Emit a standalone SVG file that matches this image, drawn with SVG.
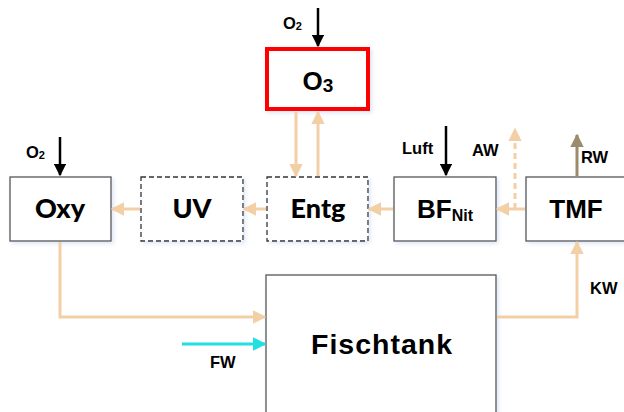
<svg xmlns="http://www.w3.org/2000/svg" width="624" height="412" viewBox="0 0 624 412">
<style>
.box{fill:#fff;stroke:#555;stroke-width:1.3}
.dash{fill:#fff;stroke:#333;stroke-width:1.3;stroke-dasharray:5 3}
.t{font-family:"Liberation Sans",Arial,sans-serif;font-weight:bold;fill:#000;text-anchor:middle}
.c{font-family:Lato,"Liberation Sans",sans-serif;font-weight:900;fill:#000;text-anchor:middle}
.lbl{font-family:"Liberation Sans",Arial,sans-serif;font-weight:bold;fill:#000;font-size:16.5px}
.flow{fill:none;stroke:#F3CFA6;stroke-width:3}
.blk{fill:none;stroke:#000;stroke-width:2.5}
</style>
<defs>
<marker id="ap" viewBox="0 0 10 10" refX="9" refY="5" markerWidth="4.5" markerHeight="4.5" orient="auto" markerUnits="strokeWidth"><path d="M0,0L10,5L0,10z" fill="#F3CFA6"/></marker>
<marker id="ak" viewBox="0 0 10 10" refX="9" refY="5" markerWidth="5" markerHeight="5" orient="auto" markerUnits="strokeWidth"><path d="M0,0L10,5L0,10z" fill="#000"/></marker>
<marker id="ab" viewBox="0 0 10 10" refX="9" refY="5" markerWidth="4.5" markerHeight="4.5" orient="auto" markerUnits="strokeWidth"><path d="M0,0L10,5L0,10z" fill="#9A8C6C"/></marker>
<marker id="ac" viewBox="0 0 10 10" refX="9" refY="5" markerWidth="4.5" markerHeight="4.5" orient="auto" markerUnits="strokeWidth"><path d="M0,0L10,5L0,10z" fill="#22E0E0"/></marker>
<filter id="sh" x="-10%" y="-10%" width="130%" height="130%"><feDropShadow dx="2" dy="2" stdDeviation="2" flood-color="#9DB8E0" flood-opacity="0.35"/></filter>
</defs>

<g id="O3">
<rect x="267" y="49" width="101" height="60" fill="#fff" stroke="#FF0000" stroke-width="4" filter="url(#sh)"/>
<text class="t" x="318" y="90" font-size="26">O<tspan font-size="19" dy="2">3</tspan></text>
</g>
<g id="Entg">
<rect class="dash" x="267" y="177" width="101" height="64" filter="url(#sh)"/>
<text class="c" x="318" y="218" font-size="27">Entg</text>
</g>
<g id="UV">
<rect class="dash" x="141" y="177" width="102" height="64" filter="url(#sh)"/>
<text class="c" x="192" y="218" font-size="27">UV</text>
</g>
<g id="Oxy">
<rect class="box" x="10" y="177" width="101" height="64" filter="url(#sh)"/>
<text class="c" x="60" y="218" font-size="27">Oxy</text>
</g>
<g id="BFNit">
<rect class="box" x="394" y="177" width="102" height="64" stroke="#222" filter="url(#sh)"/>
<text class="t" x="445" y="218" font-size="26">BF<tspan font-size="16" dy="3">Nit</tspan></text>
</g>
<g id="TMF">
<rect class="box" x="526" y="177" width="110" height="64" stroke="#222" filter="url(#sh)"/>
<text class="t" x="576" y="218" font-size="26">TMF</text>
</g>
<g id="Fischtank">
<rect class="box" x="266" y="275" width="230" height="150" stroke="#222" filter="url(#sh)"/>
<text class="t" x="382" y="354" font-size="28.5" letter-spacing="1">Fischtank</text>
</g>

<g id="connectors">
<line class="blk" x1="318" y1="8" x2="318" y2="46" marker-end="url(#ak)"/>
<line class="blk" x1="60" y1="137" x2="60" y2="175" marker-end="url(#ak)"/>
<line class="blk" x1="446" y1="126" x2="446" y2="175" marker-end="url(#ak)"/>
<line class="flow" x1="296" y1="112" x2="296" y2="176" marker-end="url(#ap)"/>
<line class="flow" x1="318" y1="176" x2="318" y2="112" marker-end="url(#ap)"/>
<line class="flow" x1="266" y1="209" x2="244" y2="209" marker-end="url(#ap)"/>
<line class="flow" x1="140" y1="209" x2="112" y2="209" marker-end="url(#ap)"/>
<line class="flow" x1="393" y1="209" x2="369" y2="209" marker-end="url(#ap)"/>
<line class="flow" x1="525" y1="209" x2="497" y2="209" marker-end="url(#ap)"/>
<path class="flow" d="M515,209V129" stroke-dasharray="6 4" marker-end="url(#ap)"/>
<line x1="577" y1="176" x2="577" y2="135" stroke="#9A8C6C" stroke-width="3" fill="none" marker-end="url(#ab)"/>
<path class="flow" d="M60,242V317H265" marker-end="url(#ap)"/>
<path class="flow" d="M497,317H577V242" marker-end="url(#ap)"/>
<line x1="182" y1="344" x2="265" y2="344" stroke="#22E0E0" stroke-width="3" marker-end="url(#ac)"/>
</g>

<g id="labels">
<text class="lbl" x="283" y="29" font-size="15">O<tspan font-size="11" dy="1">2</tspan></text>
<text class="lbl" x="26" y="158" font-size="15">O<tspan font-size="11" dy="1">2</tspan></text>
<text class="lbl" x="402" y="154">Luft</text>
<text class="lbl" x="472" y="156">AW</text>
<text class="lbl" x="581" y="163">RW</text>
<text class="lbl" x="590" y="294">KW</text>
<text class="lbl" x="210" y="368" font-size="16">FW</text>
</g>
</svg>
